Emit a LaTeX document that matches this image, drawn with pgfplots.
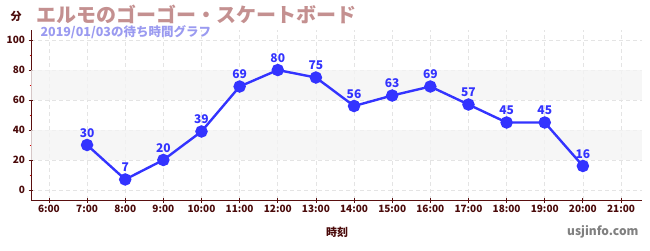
\documentclass[border=0pt]{standalone}
\usepackage{pgfplots}
\pgfplotsset{compat=1.18}
\usepackage{fontspec}
\setmainfont{Noto Sans CJK JP}
\definecolor{axred}{HTML}{5A1010}
\definecolor{ticklab}{HTML}{4A0A0A}
\definecolor{titlec}{HTML}{C49090}
\definecolor{subc}{HTML}{9A9AF0}
\definecolor{linec}{HTML}{3333FF}
\definecolor{gridc}{HTML}{E4E4E4}
\definecolor{bandc}{HTML}{F4F4F4}
\begin{document}
\begin{tikzpicture}[x=1pt,y=1pt]
\path[use as bounding box] (0pt,0pt) rectangle (650pt,250pt);
\begin{axis}[
  at={(31pt,50pt)}, anchor=south west,
  scale only axis, width=611pt, height=170pt,
  xmin=5.53, xmax=21.55, ymin=-6.7, ymax=106.7,
  xtick={6,...,21},
  xticklabels={6:00,7:00,8:00,9:00,10:00,11:00,12:00,13:00,14:00,15:00,16:00,17:00,18:00,19:00,20:00,21:00},
  ytick={0,20,40,60,80,100},
  minor ytick={10,30,50,70,90},
  /pgf/number format/assume math mode=true,
  tick label style={font=\fontsize{10}{11}\selectfont\bfseries, text=ticklab},
  xticklabel style={yshift=1pt},
  axis x line*=bottom, axis y line*=left,
  axis line style={draw=axred, line width=0.9pt, -},
  major tick style={draw=axred, line width=0.8pt},
  minor tick style={draw=red!85!black, line width=0.9pt},
  major tick length=5pt, minor tick length=3pt,
  tick align=center,
  ymajorgrids, xmajorgrids,
  major grid style={draw=gridc, dash pattern=on 4pt off 3pt, line width=0.6pt},
  clip=false,
]
\fill[bandc, opacity=0.8] (axis cs:5.53,20) rectangle (axis cs:21.55,40);
\fill[bandc, opacity=0.8] (axis cs:5.53,60) rectangle (axis cs:21.55,80);
\addplot[linec, line width=2.4pt, mark=*, mark size=5pt, mark options={fill=linec, draw=none},
  nodes near coords, every node near coord/.append style={font=\fontsize{12}{13}\selectfont\bfseries, text=linec, yshift=3pt}]
coordinates {(7,30) (8,7) (9,20) (10,39) (11,69) (12,80) (13,75) (14,56) (15,63) (16,69) (17,57) (18,45) (19,45) (20,16)};
\end{axis}
\node[font=\fontsize{11}{12}\selectfont\bfseries, text=ticklab] at (16pt,234pt) {分};
\node[font=\fontsize{20}{21}\selectfont\bfseries, text=titlec, anchor=west] at (33pt,236pt) {エルモのゴーゴー・スケートボード};
\node[font=\fontsize{12.5}{13}\selectfont\bfseries, text=subc, anchor=west] at (37pt,218pt) {2019/01/03の待ち時間グラフ};
\node[font=\fontsize{11}{12}\selectfont\bfseries, text=ticklab] at (337pt,18pt) {時刻};
\node[font=\fontsize{12}{13}\selectfont\bfseries, text=gray, anchor=east] at (642pt,18pt) {usjinfo.com};
\end{tikzpicture}
\end{document}
